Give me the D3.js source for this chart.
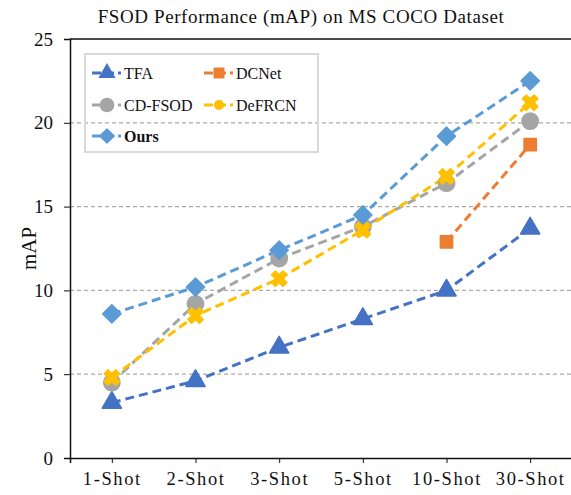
<!DOCTYPE html>
<html>
<head>
<meta charset="utf-8">
<script src="https://cdn.jsdelivr.net/npm/d3@7"></script>
<style>
  body { margin: 0; background: #fff; }
  svg text { font-family: "Liberation Serif", "DejaVu Serif", "Times New Roman", serif !important; }
</style>
</head>
<body>
<script>
// chart values
const shots = ["1-Shot", "2-Shot", "3-Shot", "5-Shot", "10-Shot", "30-Shot"];
const tfa = [3.3, 4.6, 6.6, 8.3, 10.0, 13.7];
const dcnet = [null, null, null, null, 12.9, 18.7];
const cdfsod = [4.5, 9.2, 11.9, 13.8, 16.4, 20.1];
const defrcn = [4.8, 8.5, 10.7, 13.6, 16.8, 21.2];
const ours = [8.6, 10.2, 12.4, 14.5, 19.2, 22.5];
const yTicks = [0, 5, 10, 15, 20, 25];

const width = 571;
const height = 495;
const margin = { top: 39, right: -1, bottom: 37, left: 70 };
const serif = "'Liberation Serif', 'DejaVu Serif', 'Times New Roman', serif";

const series = [
  { name: "TFA", values: tfa, color: "#4472C4", symbol: d3.symbolTriangle, size: 160, rot: 0 },
  { name: "DCNet", values: dcnet, color: "#ED7D31", symbol: d3.symbolSquare, size: 150, rot: 0 },
  { name: "CD-FSOD", values: cdfsod, color: "#A5A5A5", symbol: d3.symbolCircle, size: 210, rot: 0 },
  { name: "DeFRCN", values: defrcn, color: "#FFC000", symbol: d3.symbolCross, size: 150, rot: 45 },
  { name: "Ours", values: ours, color: "#5B9BD5", symbol: d3.symbolSquare, size: 165, rot: 45 },
];

const svg = d3
  .select("body")
  .append("svg")
  .attr("width", width)
  .attr("height", height)
  .attr("font-family", serif);

const x = d3
  .scalePoint()
  .domain(shots)
  .range([margin.left, width - margin.right])
  .padding(0.5);

const y = d3
  .scaleLinear()
  .domain([0, 25])
  .range([height - margin.bottom, margin.top]);

// title
svg
  .append("text")
  .attr("x", 301)
  .attr("y", 23)
  .attr("text-anchor", "middle")
  .attr("font-family", serif)
  .attr("font-size", "19px")
  .attr("letter-spacing", "0.6px")
  .attr("fill", "#111")
  .text("FSOD Performance (mAP) on MS COCO Dataset");

// dashed grid
svg
  .append("g")
  .selectAll("line")
  .data(yTicks.filter((d) => d > 0 && d < 25))
  .join("line")
  .attr("x1", margin.left)
  .attr("x2", width)
  .attr("y1", (d) => y(d))
  .attr("y2", (d) => y(d))
  .attr("stroke", "#aaa")
  .attr("stroke-width", 1.2)
  .attr("stroke-dasharray", "4,3");

// top frame line
svg
  .append("line")
  .attr("x1", margin.left)
  .attr("x2", width)
  .attr("y1", y(25))
  .attr("y2", y(25))
  .attr("stroke", "#111")
  .attr("stroke-width", 1.5);

// axes
const yAxis = svg
  .append("g")
  .attr("transform", `translate(${margin.left},0)`)
  .call(d3.axisLeft(y).tickValues(yTicks).tickSize(6).tickPadding(11));

const xAxis = svg
  .append("g")
  .attr("transform", `translate(0,${y(0)})`)
  .call(d3.axisBottom(x).tickSize(5).tickPadding(9));

[yAxis, xAxis].forEach((g) => {
  g.attr("font-family", serif);
  g.select(".domain").attr("stroke", "#111").attr("stroke-width", 1.5);
  g.selectAll(".tick line").attr("stroke", "#111");
  g.selectAll(".tick text")
    .attr("font-size", "19px")
    .attr("fill", "#111");
});
xAxis.selectAll(".tick text")
  .attr("font-size", "18.5px")
  .attr("letter-spacing", "1.6px");

// y label
svg
  .append("text")
  .attr("transform", `translate(36,${(y(0) + y(25)) / 2}) rotate(-90)`)
  .attr("text-anchor", "middle")
  .attr("font-family", serif)
  .attr("font-size", "21px")
  .attr("fill", "#111")
  .text("mAP");

// legend
const legend = svg.append("g");
legend
  .append("rect")
  .attr("x", 85)
  .attr("y", 54)
  .attr("width", 233)
  .attr("height", 98)
  .attr("fill", "none")
  .attr("stroke", "#d9d9d9")
  .attr("stroke-width", 2);

const legendPos = [
  { x: 92, y: 73 },
  { x: 204, y: 73 },
  { x: 92, y: 105 },
  { x: 204, y: 105 },
  { x: 92, y: 136 },
];

series.forEach((s, i) => {
  const p = legendPos[i];
  const g = legend.append("g").attr("transform", `translate(${p.x},${p.y})`);
  g.append("line")
    .attr("x1", 0)
    .attr("x2", 29)
    .attr("stroke", s.color)
    .attr("stroke-width", 3)
    .attr("stroke-dasharray", "9,4");
  const legendSym =
    s.name === "DeFRCN"
      ? d3.symbol().type(d3.symbolCircle).size(80)
      : d3.symbol().type(s.symbol).size(s.size * 0.8);
  g.append("path")
    .attr("d", legendSym)
    .attr("transform", `translate(15,0) rotate(${s.name === "DeFRCN" ? 0 : s.rot})`)
    .attr("fill", s.color);
  g.append("text")
    .attr("x", 32)
    .attr("y", 6)
    .attr("font-family", serif)
    .attr("font-size", "16px")
    .attr("font-weight", s.name === "Ours" ? "bold" : "normal")
    .attr("fill", "#111")
    .text(s.name);
});

// lines
const line = d3
  .line()
  .defined((d) => d != null)
  .x((d, i) => x(shots[i]))
  .y((d) => y(d));

svg
  .append("g")
  .selectAll("path")
  .data(series)
  .join("path")
  .attr("d", (s) => line(s.values))
  .attr("fill", "none")
  .attr("stroke", (s) => s.color)
  .attr("stroke-width", 3)
  .attr("stroke-dasharray", "9,5");

// markers
series.forEach((s) => {
  svg
    .append("g")
    .selectAll("path")
    .data(s.values.map((v, i) => ({ v, shot: shots[i] })).filter((d) => d.v != null))
    .join("path")
    .attr("d", d3.symbol().type(s.symbol).size(s.size))
    .attr("transform", (d) => `translate(${x(d.shot)},${y(d.v)}) rotate(${s.rot})`)
    .attr("fill", s.color)
    .attr("stroke", s.color)
    .attr("stroke-width", 1.5)
    .attr("stroke-linejoin", "round");
});
</script>
</body>
</html>
